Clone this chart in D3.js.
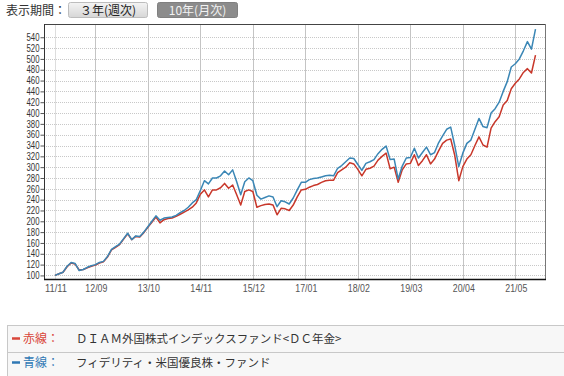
<!DOCTYPE html>
<html><head><meta charset="utf-8">
<script src="https://cdn.jsdelivr.net/npm/d3@7/dist/d3.min.js"></script>
<style>
html,body{margin:0;padding:0;background:#fff;}
svg{display:block;}
</style></head>
<body>
<svg id="chart" width="564" height="376"></svg>
<script>
// ---- data (monthly, starting 2011/11) ----
const startLabel = "11/11";
const redValues = [100,103,106,116,123,121,110,111,114,117,119,123,125,134,147,152,157,167,177,166,
 172,171,179,189,198,208,197,203,205,206,209,213,217,221,226,234,250,258,245,258,
 258,262,270,261,267,249,230,255,258,255,226,229,231,232,230,212,224,223,220,230,
 245,258,259,263,266,268,272,275,276,276,290,295,300,308,306,296,284,296,298,302,
 313,320,326,297,300,272,295,306,307,323,303,312,323,306,315,330,344,350,352,322,
 275,301,315,323,340,356,341,337,372,384,393,415,423,445,455,463,475,482,474,507];
const blueValues = [100,103,106,117,124,122,109,111,115,118,120,124,126,135,148,153,158,168,178,166,
 173,172,180,190,200,210,202,206,207,208,211,216,220,226,234,240,257,275,269,280,
 280,284,293,286,295,273,249,273,280,275,248,241,244,247,245,227,238,236,232,243,
 258,272,272,277,279,280,282,284,285,284,298,303,310,317,316,305,294,307,310,314,
 325,333,339,314,315,278,302,317,318,335,317,327,337,323,327,345,358,370,374,340,
 301,326,344,350,370,390,375,373,400,408,420,440,458,485,491,500,515,532,518,555];
const xTickLabels = ["11/11","12/09","13/10","14/11","15/12","17/01","18/02","19/03","20/04","21/05"];
const yTickValues = [100,120,140,160,180,200,220,240,260,280,300,320,340,360,380,400,420,440,460,480,500,520,540];
const seriesNames = ["ＤＩＡＭ外国株式インデックスファンド<ＤＣ年金>","フィデリティ・米国優良株・ファンド"];
const legendKeys = ["赤線：","青線："];
const periodLabel = "表示期間：";
const buttonLabels = ["３年(週次)","10年(月次)"];

// ---- layout ----
const svg = d3.select("#chart");
const plot = {l:44, r:546, t:24, b:279};
const colors = {red:"#c8372a", blue:"#3a86b5"};

function monthsFrom(label){
  const [yy,mm] = label.split("/").map(Number);
  const [y0,m0] = startLabel.split("/").map(Number);
  return (yy-y0)*12 + (mm-m0);
}
const x = d3.scaleLinear().domain([-2.72, 121.6]).range([plot.l, plot.r]);
const y = d3.scaleLinear().domain([93.4, 564.5]).range([plot.b, plot.t]);

// header
svg.append("text").attr("x",6).attr("y",15).attr("font-family","'Noto Sans CJK JP'")
  .attr("font-size",12).attr("fill","#333").text(periodLabel);
const defs = svg.append("defs");
const g1 = defs.append("linearGradient").attr("id","btnGrad").attr("x1",0).attr("x2",0).attr("y1",0).attr("y2",1);
g1.append("stop").attr("offset","0%").attr("stop-color","#f4f4f4");
g1.append("stop").attr("offset","100%").attr("stop-color","#d6d6d6");
const btns = [{x:68,w:79,fill:"url(#btnGrad)",stroke:"#bdbdbd",tc:"#222"},
              {x:157,w:80,fill:"#8c8c8c",stroke:"#808080",tc:"#f2f2f2"}];
btns.forEach((b,i)=>{
  svg.append("rect").attr("x",b.x+0.5).attr("y",2.5).attr("width",b.w).attr("height",15)
    .attr("rx",2).attr("fill",b.fill).attr("stroke",b.stroke);
  svg.append("text").attr("x",b.x+b.w/2+0.5).attr("y",14.5).attr("text-anchor","middle")
    .attr("font-family","'Noto Sans CJK JP'").attr("font-size",12).attr("fill",b.tc).text(buttonLabels[i]);
});

// grid
const gGrid = svg.append("g");
gGrid.selectAll("line.h").data(yTickValues).join("line")
  .attr("x1",plot.l).attr("x2",plot.r).attr("y1",d=>Math.round(y(d))+0.5).attr("y2",d=>Math.round(y(d))+0.5)
  .attr("stroke","#c8c8c8").attr("stroke-dasharray","1,1");
gGrid.selectAll("line.v").data(xTickLabels).join("line")
  .attr("x1",d=>Math.round(x(monthsFrom(d)))+0.5).attr("x2",d=>Math.round(x(monthsFrom(d)))+0.5)
  .attr("y1",plot.t).attr("y2",plot.b)
  .attr("stroke",(d,i)=>i===0?"#dddddd":"#c4c4c4");

// axes
const yAxis = d3.axisLeft(y).tickValues(yTickValues).tickSize(4).tickPadding(1);
const gy = svg.append("g").attr("transform",`translate(${plot.l+0.5},0)`).call(yAxis);
gy.select(".domain").remove();
gy.selectAll(".tick line").attr("stroke","#555");
gy.selectAll(".tick text").attr("font-family","'Liberation Sans'").attr("font-size",10)
  .attr("fill","#333").attr("textLength",13).attr("lengthAdjust","spacingAndGlyphs");

const xAxis = d3.axisBottom(x).tickValues(xTickLabels.map(monthsFrom))
  .tickFormat((d,i)=>xTickLabels[i]).tickSize(0).tickPadding(6);
const gx = svg.append("g").attr("transform",`translate(0.5,${plot.b})`).call(xAxis);
gx.select(".domain").remove();
gx.selectAll(".tick text").attr("font-family","'Liberation Sans'").attr("font-size",10)
  .attr("fill","#555").attr("textLength",22).attr("lengthAdjust","spacingAndGlyphs");

// frame
svg.append("line").attr("x1",plot.l).attr("x2",plot.r).attr("y1",plot.t+0.5).attr("y2",plot.t+0.5).attr("stroke","#444");
svg.append("line").attr("x1",plot.r-0.5).attr("x2",plot.r-0.5).attr("y1",plot.t).attr("y2",plot.b).attr("stroke","#777");
svg.append("line").attr("x1",plot.l+0.5).attr("x2",plot.l+0.5).attr("y1",plot.t).attr("y2",plot.b+1).attr("stroke","#333");
svg.append("line").attr("x1",plot.l).attr("x2",plot.r).attr("y1",plot.b+0.5).attr("y2",plot.b+0.5).attr("stroke","#111").attr("stroke-width",1.5);

// lines
const line = d3.line().x((d,i)=>x(i)).y(d=>y(d));
svg.append("path").datum(redValues).attr("d",line).attr("fill","none")
  .attr("stroke",colors.red).attr("stroke-width",1.5).attr("stroke-linejoin","round");
svg.append("path").datum(blueValues).attr("d",line).attr("fill","none")
  .attr("stroke",colors.blue).attr("stroke-width",1.5).attr("stroke-linejoin","round");

// legend
const lg = svg.append("g");
lg.append("rect").attr("x",7.5).attr("y",325.5).attr("width",570).attr("height",55)
  .attr("fill","#f7f7f7").attr("stroke","#c8c8c8");
lg.append("line").attr("x1",8).attr("x2",564).attr("y1",352.5).attr("y2",352.5).attr("stroke","#c8c8c8");
const rows = [{y:338,c:"#d9463a"},{y:362,c:"#2f78b4"}];
rows.forEach((r,i)=>{
  lg.append("line").attr("x1",12).attr("x2",20).attr("y1",r.y+0.5).attr("y2",r.y+0.5)
    .attr("stroke",r.c).attr("stroke-width",2.5);
  lg.append("text").attr("x",23).attr("y",r.y+4.5).attr("font-family","'Noto Sans CJK JP'")
    .attr("font-size",12).attr("fill",r.c).text(legendKeys[i]);
  lg.append("text").attr("x",76).attr("y",r.y+4.5).attr("font-family","'Noto Sans CJK JP'")
    .attr("font-size",11.5).attr("fill","#333").text(seriesNames[i]);
});
</script>
</body></html>
